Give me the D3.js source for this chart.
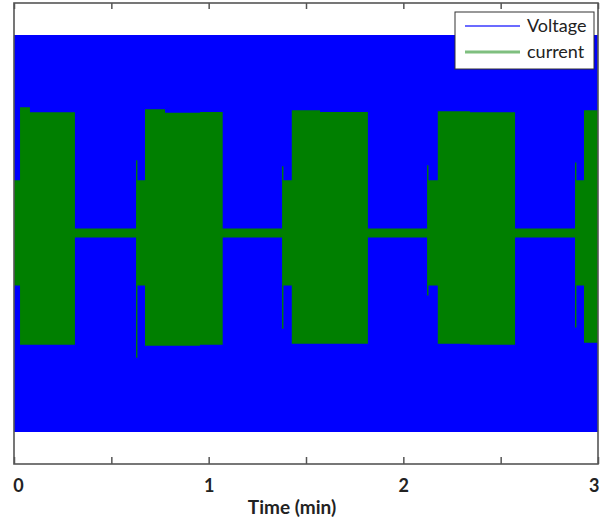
<!DOCTYPE html>
<html>
<head>
<meta charset="utf-8">
<script src="https://cdn.jsdelivr.net/npm/d3@7"></script>
<style>
  html, body { margin: 0; padding: 0; background: #fff; }
  svg { display: block; }
</style>
</head>
<body>
<svg id="chart" width="600" height="519"></svg>
<script>
// ---- Data (time in minutes, amplitude in normalized units) ----
// Voltage: dense oscillation drawn as its envelope
const voltTime  = [0, 3];
const voltUpper = [1.033, 1.033];
const voltLower = [-1.033, -1.033];

// Current: envelope of the oscillation (step-wise)
const curTime  = [0, 0.031, 0.082, 0.313, 0.627, 0.634, 0.673, 0.776, 0.955, 1.072, 1.377, 1.384, 1.427, 1.572, 1.818, 2.122, 2.129, 2.177, 2.342, 2.574, 2.882, 2.889, 2.928, 3.0];
const curUpper = [0.277, 0.657, 0.631, 0.026, 0.381, 0.277, 0.647, 0.628, 0.633, 0.026, 0.350, 0.277, 0.642, 0.633, 0.026, 0.355, 0.277, 0.637, 0.631, 0.026, 0.370, 0.277, 0.642, 0.642];
const curLower = [-0.271, -0.579, -0.579, -0.021, -0.647, -0.271, -0.584, -0.584, -0.579, -0.021, -0.496, -0.271, -0.574, -0.574, -0.021, -0.323, -0.271, -0.574, -0.579, -0.021, -0.490, -0.271, -0.569, -0.569];

const xTicks = [0, 0.5, 1, 1.5, 2, 2.5, 3];
const xTickLabels = ["0", "", "1", "", "2", "", "3"];
const seriesNames = ["Voltage", "current"];
const seriesColors = ["#0000ff", "#007f00"];
const xLabel = "Time (min)";

// ---- Layout ----
const svg = d3.select("#chart");
const plot = { left: 14, right: 598, top: 3, bottom: 464 };

const x = d3.scaleLinear().domain([0, 3]).range([plot.left, plot.right]);
const y = d3.scaleLinear().domain([-1.2, 1.2]).range([plot.bottom, plot.top]);

svg.append("defs").append("clipPath").attr("id", "clip")
  .append("rect")
  .attr("x", plot.left).attr("y", plot.top)
  .attr("width", plot.right - plot.left).attr("height", plot.bottom - plot.top);

const g = svg.append("g").attr("clip-path", "url(#clip)");

const voltData = voltTime.map((t, i) => ({ t, hi: voltUpper[i], lo: voltLower[i] }));
const curData = curTime.map((t, i) => ({ t, hi: curUpper[i], lo: curLower[i] }));

const areaStep = d3.area()
  .x(d => x(d.t))
  .y0(d => y(d.lo))
  .y1(d => y(d.hi))
  .curve(d3.curveStepAfter);

g.append("path").datum(voltData)
  .attr("d", areaStep)
  .attr("fill", seriesColors[0]);

g.append("path").datum(curData)
  .attr("d", areaStep)
  .attr("fill", seriesColors[1]);

// ---- Axes ----
const axisColor = "#555";
const xAxisBottom = d3.axisBottom(x)
  .tickValues(xTicks)
  .tickSize(-7)
  .tickFormat((d, i) => xTickLabels[i]);

const gx = svg.append("g")
  .attr("transform", `translate(0,${plot.bottom})`)
  .call(xAxisBottom);
gx.select(".domain").remove();
gx.selectAll(".tick line").attr("stroke", axisColor).attr("stroke-width", 1.5);
gx.selectAll(".tick text")
  .attr("y", 28)
  .attr("dy", 0)
  .attr("fill", "#222")
  .style("font-family", "Lato, 'Open Sans', sans-serif")
  .style("font-size", "18px")
  .style("font-weight", "bold");
// nudge first and last labels so they stay inside the picture
gx.selectAll(".tick text")
  .filter(d => d === 0).attr("x", 4);
gx.selectAll(".tick text")
  .filter(d => d === 3).attr("text-anchor", "end").attr("x", 1);

const xAxisTop = d3.axisTop(x)
  .tickValues(xTicks)
  .tickSize(-6)
  .tickFormat("");
const gxt = svg.append("g")
  .attr("transform", `translate(0,${plot.top})`)
  .call(xAxisTop);
gxt.select(".domain").remove();
gxt.selectAll(".tick line").attr("stroke", axisColor).attr("stroke-width", 1.5);

// box
svg.append("rect")
  .attr("x", plot.left).attr("y", plot.top)
  .attr("width", plot.right - plot.left).attr("height", plot.bottom - plot.top)
  .attr("fill", "none")
  .attr("stroke", axisColor)
  .attr("stroke-width", 1.6);

// x label
svg.append("text")
  .attr("x", 292)
  .attr("y", 514)
  .attr("text-anchor", "middle")
  .attr("fill", "#222")
  .style("font-family", "Lato, 'Open Sans', sans-serif")
  .style("font-size", "19px")
  .style("font-weight", "bold")
  .text(xLabel);

// ---- Legend ----
const lg = svg.append("g").attr("transform", "translate(455,12)");
lg.append("rect")
  .attr("width", 139).attr("height", 57)
  .attr("fill", "#fff")
  .attr("stroke", "#333")
  .attr("stroke-width", 1);
const legendLineColors = ["#3a3aff", "#7fbf7f"];
const legendLineWidths = [1.5, 3];
seriesNames.forEach((name, i) => {
  const yy = 14 + i * 26;
  lg.append("line")
    .attr("x1", 10).attr("x2", 65)
    .attr("y1", yy).attr("y2", yy)
    .attr("stroke", legendLineColors[i])
    .attr("stroke-width", legendLineWidths[i]);
  lg.append("text")
    .attr("x", 72).attr("y", yy + 6)
    .attr("fill", "#222")
    .style("font-family", "Lato, 'Open Sans', sans-serif")
    .style("font-size", "18px")
    .text(name);
});
</script>
</body>
</html>
